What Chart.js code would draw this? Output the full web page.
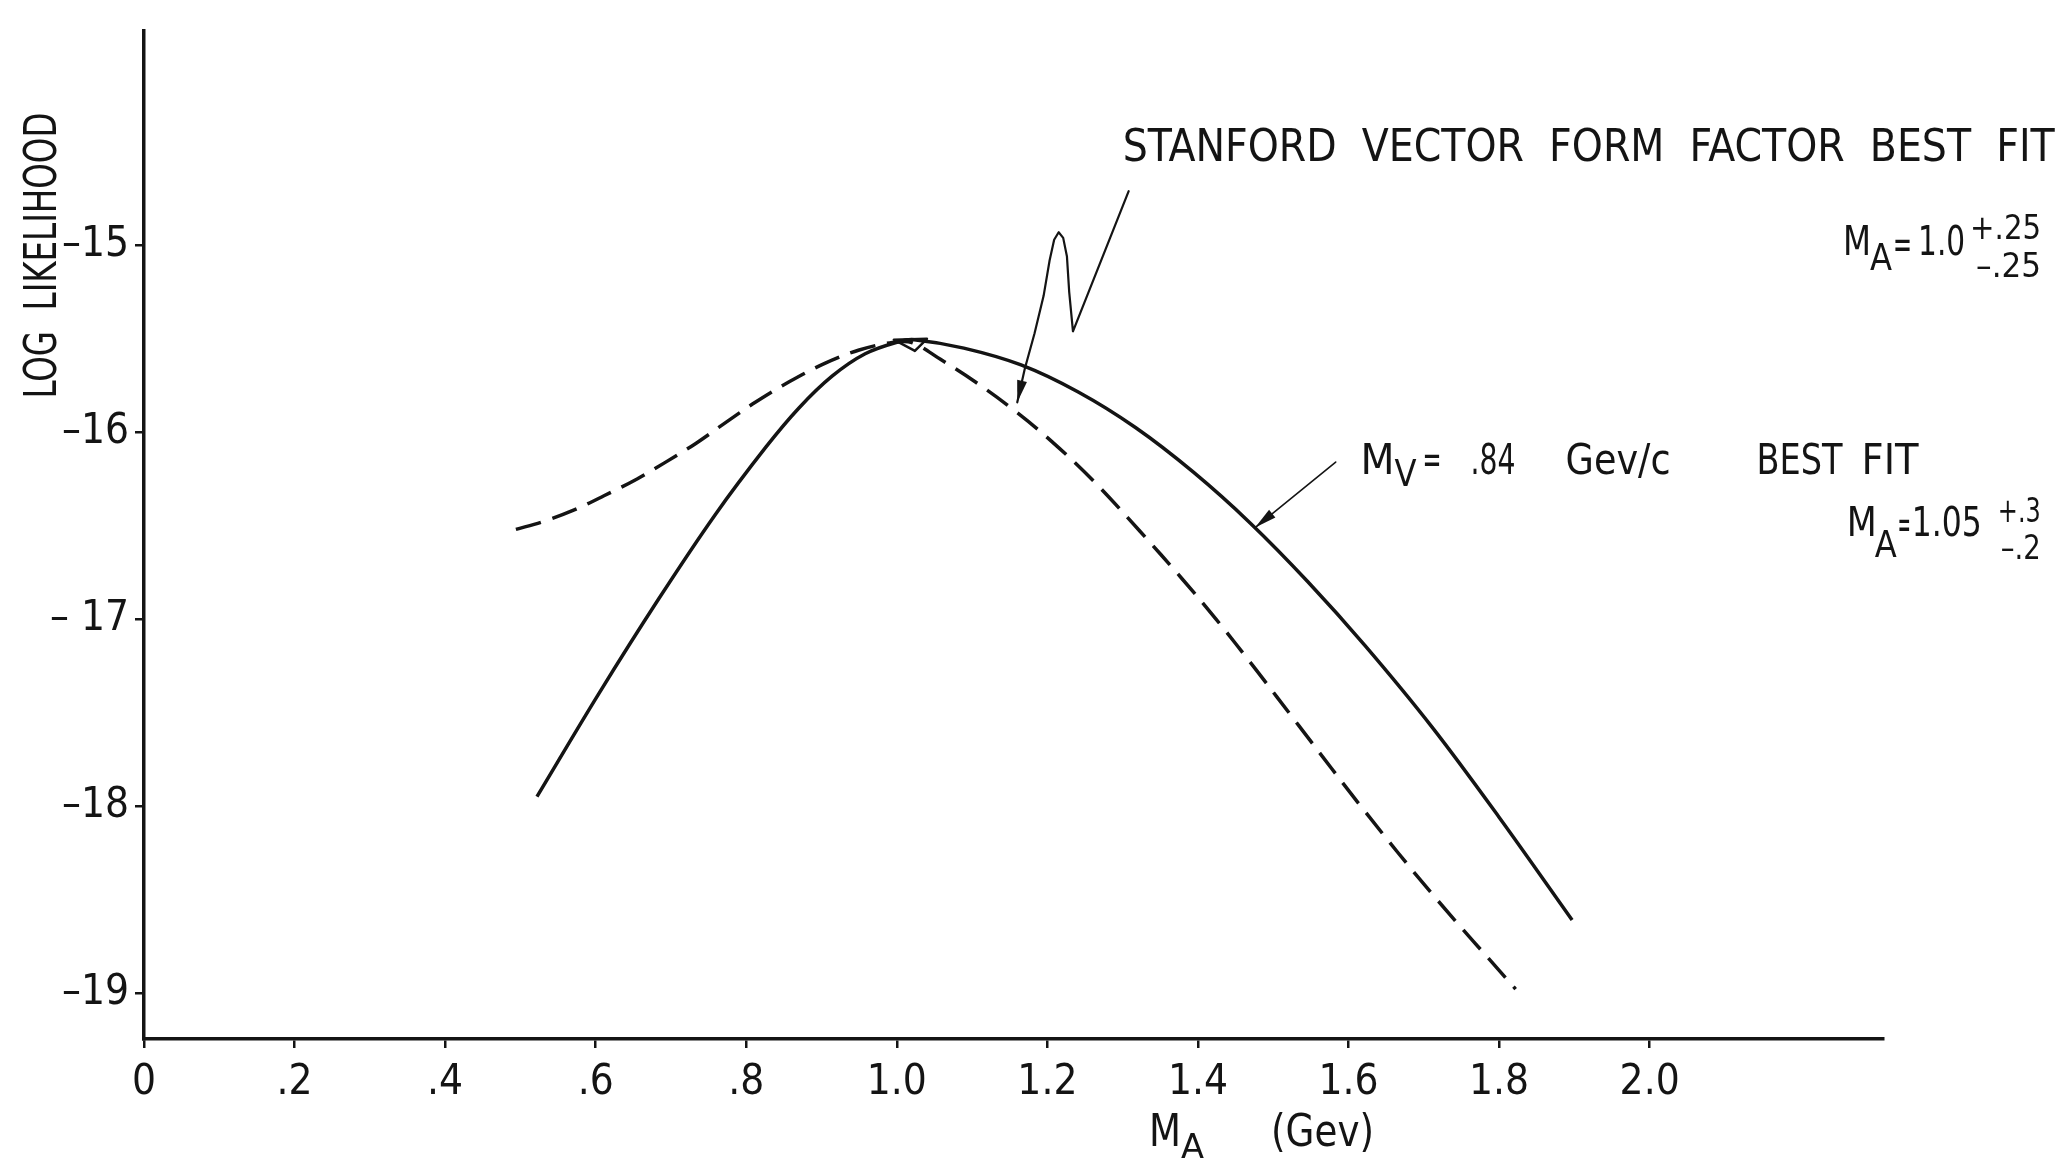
<!DOCTYPE html>
<html>
<head>
<meta charset="utf-8">
<script src="https://cdn.jsdelivr.net/npm/chart.js@4"></script>
<style>
  html, body { margin: 0; padding: 0; background: #fff; }
  #wrap { width: 2068px; height: 1159px; position: relative; }
</style>
</head>
<body>
<div id="wrap"><canvas id="plot"></canvas></div>
<script>
// M_A (Gev) vs log likelihood
const maSolid = [0.522, 0.604, 0.684, 0.759, 0.826, 0.870, 0.914, 0.958, 1.003, 1.023, 1.089, 1.165, 1.241, 1.317, 1.394, 1.470, 1.546, 1.622, 1.711, 1.800, 1.897];
const llSolid = [-17.95, -17.40, -16.89, -16.44, -16.08, -15.87, -15.70, -15.58, -15.515, -15.505, -15.55, -15.64, -15.785, -15.975, -16.214, -16.488, -16.80, -17.142, -17.578, -18.06, -18.61];

// Stanford vector form factor fit (dashed)
const maDashed = [0.494, 0.529, 0.569, 0.611, 0.655, 0.693, 0.733, 0.772, 0.812, 0.857, 0.905, 0.950, 0.994, 1.020, 1.058, 1.104, 1.155, 1.206, 1.261, 1.323, 1.378, 1.424, 1.475, 1.534, 1.622, 1.711, 1.822];
const llDashed = [-16.52, -16.48, -16.42, -16.34, -16.25, -16.16, -16.06, -15.95, -15.84, -15.73, -15.63, -15.56, -15.52, -15.52, -15.61, -15.73, -15.88, -16.05, -16.26, -16.53, -16.78, -17.00, -17.26, -17.57, -18.03, -18.47, -18.98];

const xTicks = [0, 0.2, 0.4, 0.6, 0.8, 1.0, 1.2, 1.4, 1.6, 1.8, 2.0];
const xTickLabels = ['0', '.2', '.4', '.6', '.8', '1.0', '1.2', '1.4', '1.6', '1.8', '2.0'];
const yTicks = [-19, -18, -17, -16, -15];
const yTickLabels = ['\u201319', '\u201318', '\u2013 17', '\u201316', '\u201315'];

const FONT = "'DejaVu Sans Condensed', 'Liberation Sans Narrow', 'Roboto Condensed', 'DejaVu Sans', sans-serif";
const INK = '#141414';

// text pieces: [text, dx, dy, font size, width] relative to an anchor in data units
const notes = [
  { at: [1.300, -14.548], parts: [['STANFORD  VECTOR  FORM  FACTOR  BEST  FIT', 0, 0, 44, 932]] },
  { at: [2.257, -15.05], parts: [['M', 0, 0, 41, 28], ['A', 27, 15, 38, 22], ['=', 50, 3, 40, 19], ['1.0', 75, 0, 41, 47],
                                 ['+.25', 127, -16, 34, 71], ['\u2013.25', 133, 22, 34, 65]] },
  { at: [1.616, -16.225], parts: [['M', 0, 0, 42, 34], ['V', 34, 12, 38, 22], ['=', 62, -1, 40, 19], ['.84', 110, 0, 42, 45],
                                  ['Gev/c', 205, 0, 42, 105], ['BEST', 396, 0, 42, 86], ['FIT', 501, 0, 42, 57]] },
  { at: [2.262, -16.556], parts: [['M', 0, 0, 41, 30], ['A', 28, 21, 38, 22], ['=', 51, 2, 40, 13], ['1.05', 65, 0, 41, 70],
                                  ['+.3', 151, -14, 34, 43], ['\u2013.2', 154, 23, 34, 40]] },
  { at: [1.335, -19.82], parts: [['M', 0, 0, 44, 32], ['A', 32, 12, 34, 23], ['(Gev)', 122, 0, 44, 103]] }
];
const yTitle = { text: 'LOG  LIKELIHOOD', at: [-0.117, -15.82], size: 44, width: 286 };

const stanfordLeader = [[1.308, -14.71], [1.234, -15.46], [1.229, -15.25], [1.226, -15.06], [1.221, -14.96], [1.215, -14.93],
                        [1.209, -14.97], [1.203, -15.08], [1.195, -15.27], [1.183, -15.47], [1.170, -15.66], [1.160, -15.84]];
const mvLeader = [[1.583, -16.16], [1.476, -16.51]];
const peakMark = [[0.996, -15.505], [1.040, -15.50], [1.024, -15.565]];

function fitText(ctx, s, x, y, size, w) {
  ctx.font = size + 'px ' + FONT;
  const m = ctx.measureText(s).width;
  ctx.save();
  ctx.translate(x, y);
  ctx.scale(w / m, 1);
  ctx.fillText(s, 0, 0);
  ctx.restore();
}

function arrowHead(ctx, a, b, len, half) {
  const ang = Math.atan2(b[1] - a[1], b[0] - a[0]);
  ctx.beginPath();
  ctx.moveTo(b[0], b[1]);
  ctx.lineTo(b[0] - len * Math.cos(ang) + half * Math.sin(ang), b[1] - len * Math.sin(ang) - half * Math.cos(ang));
  ctx.lineTo(b[0] - len * Math.cos(ang) - half * Math.sin(ang), b[1] - len * Math.sin(ang) + half * Math.cos(ang));
  ctx.closePath();
  ctx.fill();
}

const decorations = {
  id: 'decorations',
  afterDraw(chart) {
    const { ctx, scales: { x, y } } = chart;
    const px = p => [x.getPixelForValue(p[0]), y.getPixelForValue(p[1])];
    ctx.save();
    ctx.fillStyle = INK;
    ctx.strokeStyle = INK;
    ctx.textBaseline = 'alphabetic';
    ctx.textAlign = 'left';

    notes.forEach(n => {
      const [ax, ay] = px(n.at);
      n.parts.forEach(([s, dx, dy, size, w]) => fitText(ctx, s, ax + dx, ay + dy, size, w));
    });

    // rotated y title
    const [tx, ty] = px(yTitle.at);
    ctx.save();
    ctx.translate(tx, ty);
    ctx.rotate(-Math.PI / 2);
    fitText(ctx, yTitle.text, 0, 0, yTitle.size, yTitle.width);
    ctx.restore();

    // leader lines with arrowheads
    ctx.lineWidth = 2.2;
    ctx.lineJoin = 'round';
    ctx.lineCap = 'round';
    const sl = stanfordLeader.map(px);
    ctx.beginPath();
    ctx.moveTo(sl[0][0], sl[0][1]);
    sl.slice(1).forEach(p => ctx.lineTo(p[0], p[1]));
    ctx.stroke();
    arrowHead(ctx, sl[sl.length - 2], sl[sl.length - 1], 22, 5);

    const ml = mvLeader.map(px);
    ctx.lineWidth = 1.6;
    ctx.beginPath();
    ctx.moveTo(ml[0][0], ml[0][1]);
    ctx.lineTo(ml[1][0], ml[1][1]);
    ctx.stroke();
    arrowHead(ctx, ml[0], ml[1], 22, 5);

    // little triangle at the peak
    const pm = peakMark.map(px);
    ctx.lineWidth = 2.5;
    ctx.beginPath();
    ctx.moveTo(pm[0][0], pm[0][1]);
    pm.slice(1).forEach(p => ctx.lineTo(p[0], p[1]));
    ctx.closePath();
    ctx.stroke();
    ctx.restore();
  }
};

new Chart(document.getElementById('plot'), {
  type: 'scatter',
  data: {
    datasets: [
      {
        label: 'M_V = .84 Gev/c best fit',
        data: maSolid.map((m, i) => ({ x: m, y: llSolid[i] })),
        showLine: true,
        borderColor: INK,
        borderWidth: 3.5,
        pointRadius: 0,
        tension: 0.35
      },
      {
        label: 'Stanford vector form factor best fit',
        data: maDashed.map((m, i) => ({ x: m, y: llDashed[i] })),
        showLine: true,
        borderColor: INK,
        borderWidth: 3.5,
        borderDash: [26, 12],
        pointRadius: 0,
        tension: 0.35
      }
    ]
  },
  options: {
    responsive: true,
    maintainAspectRatio: false,
    animation: false,
    layout: { padding: { top: 13, right: 185, bottom: 0, left: 0 } },
    plugins: { legend: { display: false }, tooltip: { enabled: false } },
    scales: {
      x: {
        type: 'linear',
        min: 0,
        max: 2.31,
        afterFit: s => { s.height = 120; },
        afterBuildTicks: s => { s.ticks = xTicks.map(v => ({ value: v })); },
        ticks: {
          callback: (v, i) => xTickLabels[i],
          autoSkip: false,
          maxRotation: 0,
          padding: 10,
          color: INK,
          font: { size: 42, family: FONT }
        },
        grid: { drawOnChartArea: false, drawTicks: true, tickLength: 9, color: INK, lineWidth: 2.5 },
        border: { color: INK, width: 3.5 }
      },
      y: {
        type: 'linear',
        min: -19.247,
        max: -13.854,
        afterFit: s => { s.width = 144; },
        afterBuildTicks: s => { s.ticks = yTicks.map(v => ({ value: v })); },
        ticks: {
          callback: (v, i) => yTickLabels[i],
          autoSkip: false,
          padding: 6,
          color: INK,
          font: { size: 42, family: FONT }
        },
        grid: { drawOnChartArea: false, drawTicks: true, tickLength: 9, color: INK, lineWidth: 2.5 },
        border: { color: INK, width: 3.5 }
      }
    }
  },
  plugins: [decorations]
});
</script>
</body>
</html>
